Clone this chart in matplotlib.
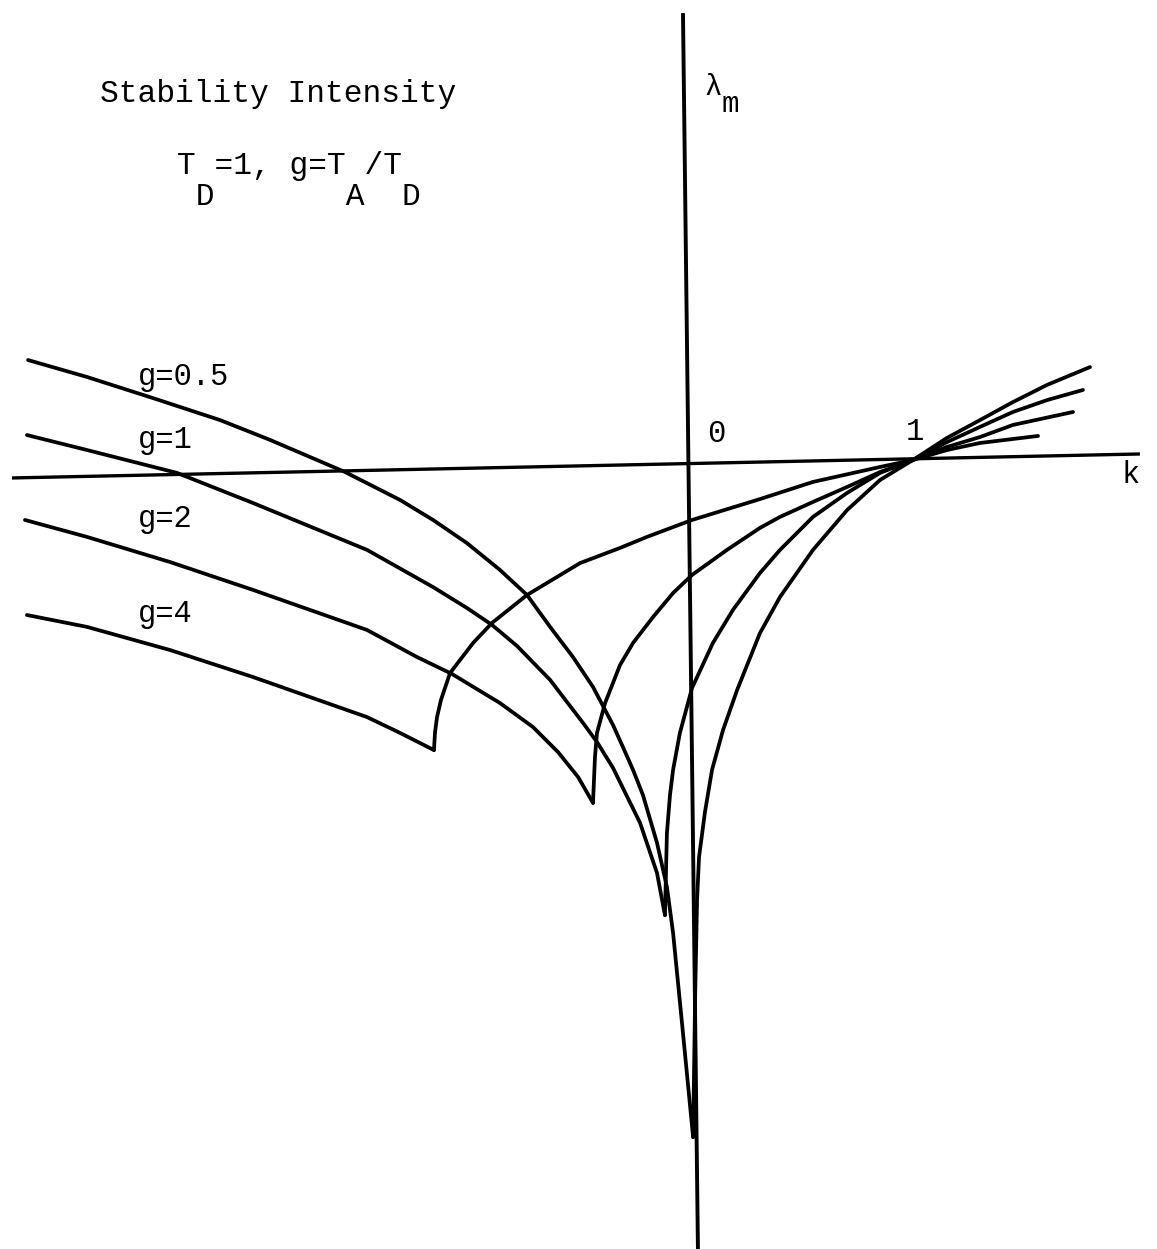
import matplotlib
matplotlib.use("Agg")
import matplotlib.pyplot as plt

# ---------------- data (k, lambda_m) ----------------
g_labels = ["g=0.5", "g=1", "g=2", "g=4"]

# g = 0.5
k_05_left = [-3.018, -2.750, -2.450, -2.145, -1.918, -1.577, -1.327, -1.177, -1.023,
             -0.873, -0.750, -0.645, -0.541, -0.450, -0.359, -0.314, -0.268, -0.223,
             -0.159, -0.114, -0.086, -0.041, 0.005]
l_05_left = [0.468, 0.391, 0.295, 0.195, 0.105, -0.041, -0.168, -0.259, -0.364,
             -0.486, -0.600, -0.745, -0.882, -1.018, -1.191, -1.291, -1.395, -1.509,
             -1.727, -1.927, -2.136, -2.591, -3.064]
k_05_right = [0.005, 0.014, 0.023, 0.032, 0.059, 0.091, 0.141, 0.205, 0.309, 0.400,
              0.550, 0.705, 0.855, 1.005, 1.159, 1.309, 1.459, 1.614, 1.809]
l_05_right = [-3.064, -2.441, -1.986, -1.791, -1.586, -1.395, -1.214, -1.032, -0.773,
              -0.609, -0.395, -0.214, -0.077, 0.014, 0.114, 0.195, 0.277, 0.355, 0.436]

# g = 1
k_1_left = [-3.023, -2.750, -2.341, -1.995, -1.477, -1.177, -1.023, -0.909,
            -0.795, -0.645, -0.495, -0.432, -0.359, -0.236, -0.159, -0.123]
l_1_left = [0.127, 0.059, -0.045, -0.182, -0.395, -0.564, -0.659, -0.736,
            -0.832, -0.986, -1.182, -1.268, -1.386, -1.636, -1.864, -2.055]
k_1_right = [-0.123, -0.118, -0.114, -0.100, -0.086, -0.055, 0.0, 0.095, 0.186, 0.309,
             0.400, 0.550, 0.705, 0.855, 1.005, 1.159, 1.309, 1.459, 1.614, 1.777]
l_1_right = [-2.055, -1.850, -1.682, -1.509, -1.395, -1.227, -1.023, -0.818, -0.668,
             -0.500, -0.395, -0.245, -0.136, -0.045, 0.014, 0.095, 0.164, 0.232, 0.286, 0.332]

# g = 2
k_2_left = [-3.032, -2.750, -2.373, -1.995, -1.477, -1.250, -1.091, -0.873,
            -0.723, -0.609, -0.518, -0.450]
l_2_left = [-0.259, -0.336, -0.450, -0.577, -0.759, -0.882, -0.959, -1.091,
            -1.200, -1.314, -1.427, -1.545]
k_2_right = [-0.450, -0.441, -0.432, -0.395, -0.327, -0.268, -0.177, -0.086, 0.0, 0.159,
             0.309, 0.400, 0.550, 0.705, 0.855, 1.005, 1.159, 1.309, 1.459, 1.732]
l_2_right = [-1.545, -1.336, -1.227, -1.091, -0.918, -0.818, -0.700, -0.591, -0.509,
             -0.395, -0.295, -0.245, -0.177, -0.109, -0.041, 0.014, 0.073, 0.118, 0.173, 0.232]

# g = 4
k_4_left = [-3.023, -2.750, -2.373, -1.995, -1.477, -1.327, -1.173]
l_4_left = [-0.691, -0.745, -0.850, -0.973, -1.155, -1.227, -1.305]
k_4_right = [-1.173, -1.168, -1.159, -1.141, -1.100, -0.995, -0.909, -0.750, -0.509,
             -0.327, -0.205, 0.0, 0.309, 0.550, 0.855, 1.005, 1.159, 1.309, 1.573]
l_4_right = [-1.305, -1.223, -1.155, -1.077, -0.955, -0.818, -0.727, -0.600, -0.455,
             -0.386, -0.336, -0.259, -0.164, -0.086, -0.018, 0.014, 0.059, 0.091, 0.123]

# hand-drawn axes (slightly tilted in the scan)
k_axis_x = [-3.091, 2.036]
l_axis_x = [-0.068, 0.041]
k_axis_y = [-0.041, 0.027]
l_axis_y = [2.045, -3.573]

# ---------------- figure ----------------
W, H = 1157, 1249
fig = plt.figure(figsize=(W / 100, H / 100), dpi=100)
ax = fig.add_axes([0, 0, 1, 1])
ax.set_xlim(-692 / 220, (W - 692) / 220)
ax.set_ylim((463 - H) / 220, 463 / 220)
ax.axis("off")

lw = 2.7
ax.plot(k_axis_x, l_axis_x, color="black", lw=2.4, solid_capstyle="butt")
ax.plot(k_axis_y, l_axis_y, color="black", lw=2.8, solid_capstyle="butt")

for kx, ly in [(k_05_left, l_05_left), (k_05_right, l_05_right),
               (k_1_left, l_1_left), (k_1_right, l_1_right),
               (k_2_left, l_2_left), (k_2_right, l_2_right),
               (k_4_left, l_4_left), (k_4_right, l_4_right)]:
    ax.plot(kx, ly, color="black", lw=lw, solid_joinstyle="round",
            solid_capstyle="round")

fam = ["Liberation Mono", "DejaVu Sans Mono"]


def ftext(xp, yp, s, size=22.5, ha="left", va="baseline"):
    fig.text(xp / W, 1 - yp / H, s, fontsize=size, family=fam, ha=ha, va=va,
             color="black")


ftext(100, 102, "Stability Intensity")
# T_D=1, g=T_A/T_D  (typewriter style: full-size, dropped subscripts)
ftext(177, 174, "T =1, g=T /T ")
ftext(177, 205, " D" + " " * 7 + "A" + " " * 2 + "D")

label_y = [385, 448, 527, 622]
for lab, yp in zip(g_labels, label_y):
    ftext(138, yp, lab, size=22)

ftext(716, 442, "0", ha="center", size=22)
ftext(915, 440, "1", ha="center", size=22)
ftext(1131, 483, "k", ha="center", size=22)
ftext(704, 95, "λ", size=21)
ftext(722, 112, "m", size=21)

fig.savefig("out.png", dpi=100, facecolor="white")
